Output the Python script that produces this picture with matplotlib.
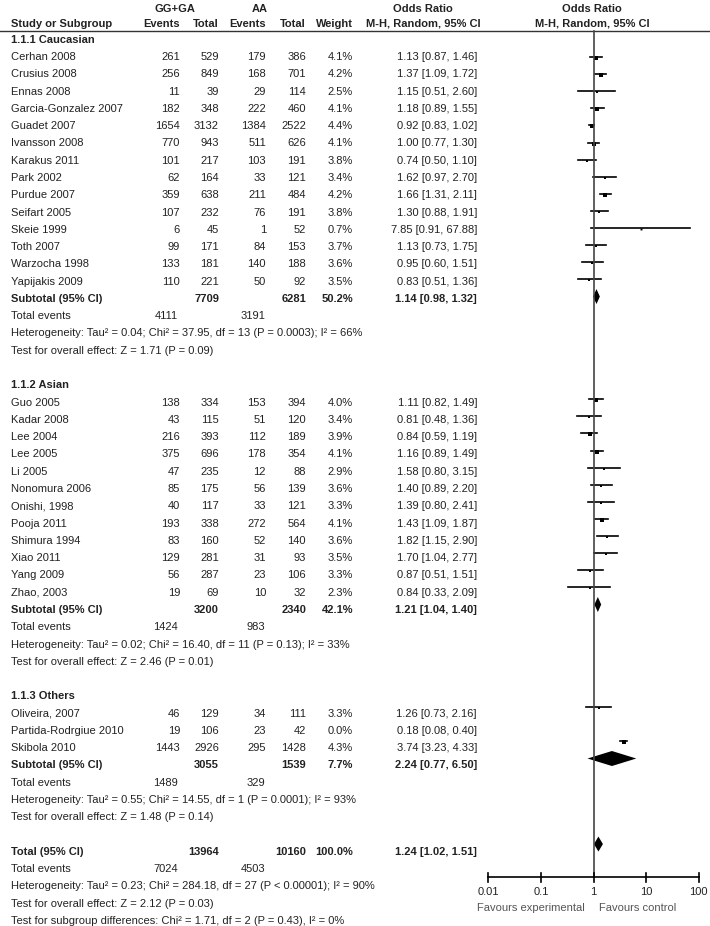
import matplotlib.pyplot as plt

plt.rcParams['font.family'] = ['Liberation Sans', 'DejaVu Sans']

# ---- data ----
cau_names = ['Cerhan 2008', 'Crusius 2008', 'Ennas 2008', 'Garcia-Gonzalez 2007', 'Guadet 2007',
             'Ivansson 2008', 'Karakus 2011', 'Park 2002', 'Purdue 2007', 'Seifart 2005',
             'Skeie 1999', 'Toth 2007', 'Warzocha 1998', 'Yapijakis 2009']
cau_ev1 = [261, 256, 11, 182, 1654, 770, 101, 62, 359, 107, 6, 99, 133, 110]
cau_tot1 = [529, 849, 39, 348, 3132, 943, 217, 164, 638, 232, 45, 171, 181, 221]
cau_ev2 = [179, 168, 29, 222, 1384, 511, 103, 33, 211, 76, 1, 84, 140, 50]
cau_tot2 = [386, 701, 114, 460, 2522, 626, 191, 121, 484, 191, 52, 153, 188, 92]
cau_w = [4.1, 4.2, 2.5, 4.1, 4.4, 4.1, 3.8, 3.4, 4.2, 3.8, 0.7, 3.7, 3.6, 3.5]
cau_or = [1.13, 1.37, 1.15, 1.18, 0.92, 1.00, 0.74, 1.62, 1.66, 1.30, 7.85, 1.13, 0.95, 0.83]
cau_lo = [0.87, 1.09, 0.51, 0.89, 0.83, 0.77, 0.50, 0.97, 1.31, 0.88, 0.91, 0.73, 0.60, 0.51]
cau_hi = [1.46, 1.72, 2.60, 1.55, 1.02, 1.30, 1.10, 2.70, 2.11, 1.91, 67.88, 1.75, 1.51, 1.36]

asi_names = ['Guo 2005', 'Kadar 2008', 'Lee 2004', 'Lee 2005', 'Li 2005', 'Nonomura 2006',
             'Onishi, 1998', 'Pooja 2011', 'Shimura 1994', 'Xiao 2011', 'Yang 2009', 'Zhao, 2003']
asi_ev1 = [138, 43, 216, 375, 47, 85, 40, 193, 83, 129, 56, 19]
asi_tot1 = [334, 115, 393, 696, 235, 175, 117, 338, 160, 281, 287, 69]
asi_ev2 = [153, 51, 112, 178, 12, 56, 33, 272, 52, 31, 23, 10]
asi_tot2 = [394, 120, 189, 354, 88, 139, 121, 564, 140, 93, 106, 32]
asi_w = [4.0, 3.4, 3.9, 4.1, 2.9, 3.6, 3.3, 4.1, 3.6, 3.5, 3.3, 2.3]
asi_or = [1.11, 0.81, 0.84, 1.16, 1.58, 1.40, 1.39, 1.43, 1.82, 1.70, 0.87, 0.84]
asi_lo = [0.82, 0.48, 0.59, 0.89, 0.80, 0.89, 0.80, 1.09, 1.15, 1.04, 0.51, 0.33]
asi_hi = [1.49, 1.36, 1.19, 1.49, 3.15, 2.20, 2.41, 1.87, 2.90, 2.77, 1.51, 2.09]

oth_names = ['Oliveira, 2007', 'Partida-Rodrgiue 2010', 'Skibola 2010']
oth_ev1 = [46, 19, 1443]
oth_tot1 = [129, 106, 2926]
oth_ev2 = [34, 23, 295]
oth_tot2 = [111, 42, 1428]
oth_w = [3.3, 0.0, 4.3]
oth_or = [1.26, 0.18, 3.74]
oth_lo = [0.73, 0.08, 3.23]
oth_hi = [2.16, 0.40, 4.33]

group_titles = ['1.1.1 Caucasian', '1.1.2 Asian', '1.1.3 Others']
sub_tot1 = [7709, 3200, 3055]
sub_tot2 = [6281, 2340, 1539]
sub_w = [50.2, 42.1, 7.7]
sub_or = [1.14, 1.21, 2.24]
sub_lo = [0.98, 1.04, 0.77]
sub_hi = [1.32, 1.40, 6.50]
sub_ev1 = [4111, 1424, 1489]
sub_ev2 = [3191, 983, 329]
sub_het = ['Heterogeneity: Tau\u00b2 = 0.04; Chi\u00b2 = 37.95, df = 13 (P = 0.0003); I\u00b2 = 66%',
           'Heterogeneity: Tau\u00b2 = 0.02; Chi\u00b2 = 16.40, df = 11 (P = 0.13); I\u00b2 = 33%',
           'Heterogeneity: Tau\u00b2 = 0.55; Chi\u00b2 = 14.55, df = 1 (P = 0.0001); I\u00b2 = 93%']
sub_test = ['Test for overall effect: Z = 1.71 (P = 0.09)',
            'Test for overall effect: Z = 2.46 (P = 0.01)',
            'Test for overall effect: Z = 1.48 (P = 0.14)']

tot_tot1, tot_tot2, tot_w = 13964, 10160, 100.0
tot_or, tot_lo, tot_hi = 1.24, 1.02, 1.51
tot_ev1, tot_ev2 = 7024, 4503
tot_notes = ['Heterogeneity: Tau\u00b2 = 0.23; Chi\u00b2 = 284.18, df = 27 (P < 0.00001); I\u00b2 = 90%',
             'Test for overall effect: Z = 2.12 (P = 0.03)',
             'Test for subgroup differences: Chi\u00b2 = 1.71, df = 2 (P = 0.43), I\u00b2 = 0%']

xticks = [0.01, 0.1, 1, 10, 100]
xtick_labels = ['0.01', '0.1', '1', '10', '100']

groups = [
    (cau_names, cau_ev1, cau_tot1, cau_ev2, cau_tot2, cau_w, cau_or, cau_lo, cau_hi),
    (asi_names, asi_ev1, asi_tot1, asi_ev2, asi_tot2, asi_w, asi_or, asi_lo, asi_hi),
    (oth_names, oth_ev1, oth_tot1, oth_ev2, oth_tot2, oth_w, oth_or, oth_lo, oth_hi),
]

# ---- layout ----
W, H = 710, 926
TXT = '#222222'
FS = 8


def ty(i):
    return 57 + 17.28 * (i - 1)


def py(i):
    return 57 + 17.11 * (i - 1)


X_NAME, X_EV1, X_TOT1, X_EV2, X_TOT2, X_W, X_OR = 11, 180, 219, 266, 306, 353, 477

fig = plt.figure(figsize=(W / 100, H / 100), dpi=100)
ax = fig.add_axes([0, 0, 1, 1])
ax.set_xlim(0, W)
ax.set_ylim(H, 0)
ax.axis('off')

x0, x1 = 488.3, 698.7
fx = fig.add_axes([x0 / W, 0, (x1 - x0) / W, 1])
fx.set_xscale('log')
fx.set_xlim(0.01, 100)
fx.set_ylim(H, 0)
fx.axis('off')


def t(x, y, s, ha='left', bold=False, color=TXT):
    ax.text(x, y, s, ha=ha, va='center', fontsize=FS, color=color,
            fontweight='bold' if bold else 'normal')


# header
t(175, 9, 'GG+GA', ha='center', bold=True)
t(260, 9, 'AA', ha='center', bold=True)
t(423, 9, 'Odds Ratio', ha='center', bold=True)
t(592, 9, 'Odds Ratio', ha='center', bold=True)
t(X_NAME, 24, 'Study or Subgroup', bold=True)
t(X_EV1, 24, 'Events', ha='right', bold=True)
t(X_TOT1, 24, 'Total', ha='right', bold=True)
t(X_EV2, 24, 'Events', ha='right', bold=True)
t(X_TOT2, 24, 'Total', ha='right', bold=True)
t(X_W, 24, 'Weight', ha='right', bold=True)
t(423, 24, 'M-H, Random, 95% CI', ha='center', bold=True)
t(592, 24, 'M-H, Random, 95% CI', ha='center', bold=True)
ax.plot([0, W], [31, 31], color='#333333', lw=1)


def diamond(i, o, lo, hi):
    y = py(i)
    fx.fill([lo, o, hi, o], [y, y - 7.5, y, y + 7.5], color='black', lw=0)


row = 0
for g, (names, e1, n1, e2, n2, w, o, lo, hi) in enumerate(groups):
    t(X_NAME, ty(row), group_titles[g], bold=True)
    row += 1
    for k in range(len(names)):
        y = ty(row)
        t(X_NAME, y, names[k])
        t(X_EV1, y, str(e1[k]), ha='right')
        t(X_TOT1, y, str(n1[k]), ha='right')
        t(X_EV2, y, str(e2[k]), ha='right')
        t(X_TOT2, y, str(n2[k]), ha='right')
        t(X_W, y, '%.1f%%' % w[k], ha='right')
        t(X_OR, y, '%.2f [%.2f, %.2f]' % (o[k], lo[k], hi[k]), ha='right')
        if w[k] > 0:
            fx.plot([lo[k], hi[k]], [py(row), py(row)], color='black', lw=1.2)
            fx.plot(o[k], py(row) + 1, marker='s', color='black',
                    markersize=1.2 + 0.25 * w[k], markeredgewidth=0)
        row += 1
    y = ty(row)
    t(X_NAME, y, 'Subtotal (95% CI)', bold=True)
    t(X_TOT1, y, str(sub_tot1[g]), ha='right', bold=True)
    t(X_TOT2, y, str(sub_tot2[g]), ha='right', bold=True)
    t(X_W, y, '%.1f%%' % sub_w[g], ha='right', bold=True)
    t(X_OR, y, '%.2f [%.2f, %.2f]' % (sub_or[g], sub_lo[g], sub_hi[g]), ha='right', bold=True)
    diamond(row, sub_or[g], sub_lo[g], sub_hi[g])
    row += 1
    y = ty(row)
    t(X_NAME, y, 'Total events')
    t(X_EV1 - 2, y, str(sub_ev1[g]), ha='right')
    t(X_EV2 - 1, y, str(sub_ev2[g]), ha='right')
    row += 1
    t(X_NAME, ty(row), sub_het[g])
    row += 1
    t(X_NAME, ty(row), sub_test[g])
    row += 2

# overall
y = ty(row)
t(X_NAME, y, 'Total (95% CI)', bold=True)
t(X_TOT1, y, str(tot_tot1), ha='right', bold=True)
t(X_TOT2, y, str(tot_tot2), ha='right', bold=True)
t(X_W, y, '%.1f%%' % tot_w, ha='right', bold=True)
t(X_OR, y, '%.2f [%.2f, %.2f]' % (tot_or, tot_lo, tot_hi), ha='right', bold=True)
diamond(row, tot_or, tot_lo, tot_hi)
row += 1
y = ty(row)
t(X_NAME, y, 'Total events')
t(X_EV1 - 2, y, str(tot_ev1), ha='right')
t(X_EV2 - 1, y, str(tot_ev2), ha='right')
for note in tot_notes:
    row += 1
    t(X_NAME, ty(row), note)

# forest axis
fx.plot([1, 1], [31, 877], color='#444444', lw=1.2, clip_on=False)
fx.plot([0.01, 100], [877, 877], color='black', lw=1.2, clip_on=False)
for v, lab in zip(xticks, xtick_labels):
    fx.plot([v, v], [873, 882], color='black', lw=1.2, clip_on=False)
    fx.text(v, 892, lab, ha='center', va='center', fontsize=FS, color=TXT)
ax.text(585, 908, 'Favours experimental', ha='right', va='center', fontsize=FS, color='#555555')
ax.text(599, 908, 'Favours control', ha='left', va='center', fontsize=FS, color='#555555')

fig.savefig('out.png', dpi=100)
